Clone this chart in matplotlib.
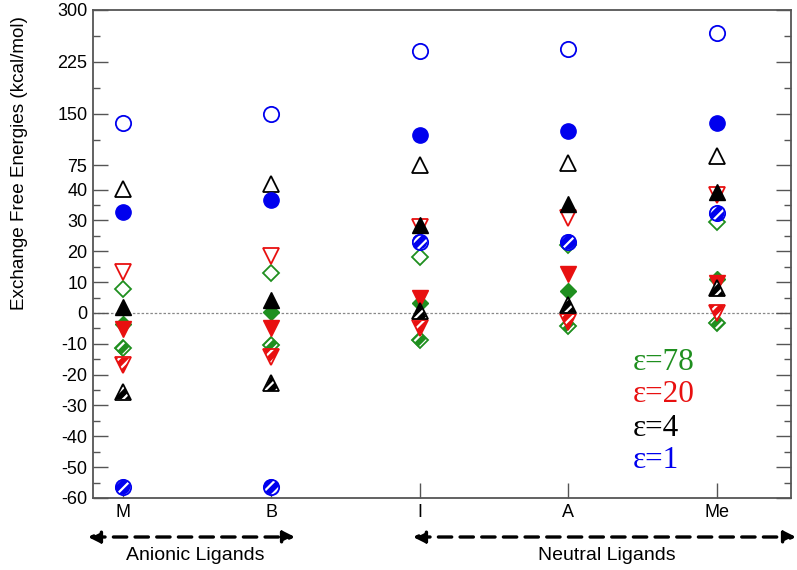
import numpy as np
import matplotlib
matplotlib.use("Agg")
import matplotlib.pyplot as plt

plt.rcParams['font.family'] = ['Liberation Sans', 'DejaVu Sans']
plt.rcParams['hatch.linewidth'] = 1.6

ligands = ['M', 'B', 'I', 'A', 'Me']

# three results per dielectric: open, filled, hatched markers
eps78_open = [7.8, 13.1, 18.3, 22.0, 29.5]
eps78_filled = [-3.5, 0.2, 3.2, 7.1, 11.0]
eps78_hatched = [-11.5, -10.4, -8.8, -4.2, -3.2]

eps20_open = [13.4, 18.5, 27.8, 30.7, 38.3]
eps20_filled = [-5.3, -5.0, 4.8, 12.5, 9.8]
eps20_hatched = [-17.0, -14.2, -5.0, -2.8, 0.1]

eps4_open = [40.5, 48.0, 75.7, 79.0, 88.0]
eps4_filled = [2.0, 4.2, 28.5, 35.3, 39.3]
eps4_hatched = [-25.5, -22.8, 0.5, 2.6, 8.0]

eps1_open = [137.0, 150.0, 240.0, 243.0, 266.0]
eps1_filled = [32.7, 36.6, 119.0, 125.0, 136.0]
eps1_hatched = [-56.4, -56.4, 23.1, 23.1, 32.3]

major_ticks = [-60, -50, -40, -30, -20, -10, 0, 10, 20, 30, 40, 75, 150, 225, 300]
minor_ticks = [-55, -45, -35, -25, -15, -5, 5, 15, 25, 35, 112.5, 187.5, 262.5]

legend_labels = ['\u03b5=78', '\u03b5=20', '\u03b5=4', '\u03b5=1']

green = '#1f8f1f'
red = '#e81010'
black = '#000000'
blue = '#0000ee'

# axis is compressed above 40
r = 0.224
def fwd(v):
    v = np.asarray(v, dtype=float)
    return np.where(v <= 40, v, 40 + (v - 40) * r)

def inv(u):
    u = np.asarray(u, dtype=float)
    return np.where(u <= 40, u, 40 + (u - 40) / r)

fig = plt.figure(figsize=(7.97, 5.70), dpi=100)
ax = fig.add_axes([93/797, 1 - 498/570, (791 - 93)/797, (498 - 10)/570])
ax.set_yscale('function', functions=(fwd, inv))

x = np.arange(len(ligands))
ax.axhline(0, color='#888888', lw=0.9, ls=(0, (2, 1.5)), zorder=1)

groups = [
    ('D', 8.6, green, eps78_open, eps78_filled, eps78_hatched),
    ('v', 11, red, eps20_open, eps20_filled, eps20_hatched),
    ('^', 11, black, eps4_open, eps4_filled, eps4_hatched),
    ('o', 11, blue, eps1_open, eps1_filled, eps1_hatched),
]
for m, ms, c, op, fi, ha in groups:
    ax.plot(x, op, ls='none', marker=m, ms=ms, mfc='none', mec=c, mew=1.3, zorder=3)
    ax.plot(x, fi, ls='none', marker=m, ms=ms, mfc=c, mec=c, mew=1.0, zorder=3)
    ax.scatter(x, ha, s=ms**2, marker=m, facecolor=c, edgecolor='white',
               linewidths=0, hatch='///', zorder=3)
    ax.plot(x, ha, ls='none', marker=m, ms=ms, mfc='none', mec=c, mew=1.3, zorder=3)

ax.set_xlim(-0.2, 4.5)
ax.set_ylim(-60, 300)
ax.set_xticks(x)
ax.set_xticklabels(ligands, fontsize=13)
ax.set_yticks(major_ticks)
ax.set_yticks(minor_ticks, minor=True)
ax.set_yticklabels([str(t) for t in major_ticks], fontsize=13)
ax.tick_params(axis='both', which='major', direction='in', length=11, width=1.0,
               color='#555555', pad=4)
ax.tick_params(axis='y', which='minor', direction='in', length=5, width=1.0,
               color='#555555')
ax.tick_params(axis='y', which='both', right=True)
ax.tick_params(axis='x', which='minor', bottom=False)
for s in ax.spines.values():
    s.set_color('#555555')
    s.set_linewidth(1.3)

fig.text(20/797, 1 - 163/570, 'Exchange Free Energies (kcal/mol)', rotation=90,
         ha='center', va='center', fontsize=13.6)

leg_colors = [green, red, black, blue]
leg_y = [362, 395, 428, 461]
for lab, c, yy in zip(legend_labels, leg_colors, leg_y):
    fig.text(633/797, 1 - yy/570, lab, color=c, fontsize=22.5,
             family='Liberation Serif', ha='left', va='center')

# ligand group arrows under the axis
arrow = dict(arrowstyle='<|-|>,head_length=0.7,head_width=0.35', lw=2.4,
             ls=(0, (4, 2.5)), color='k', shrinkA=0, shrinkB=0)
ax.annotate('', xy=(295, 570 - 537), xytext=(88, 570 - 537),
            xycoords='figure pixels', textcoords='figure pixels', arrowprops=arrow)
ax.annotate('', xy=(796, 570 - 537), xytext=(413, 570 - 537),
            xycoords='figure pixels', textcoords='figure pixels', arrowprops=arrow)
fig.text(195/797, 1 - 556/570, 'Anionic Ligands', ha='center', va='center', fontsize=14)
fig.text(607/797, 1 - 556/570, 'Neutral Ligands', ha='center', va='center', fontsize=14)

fig.savefig('out.png', dpi=100)
